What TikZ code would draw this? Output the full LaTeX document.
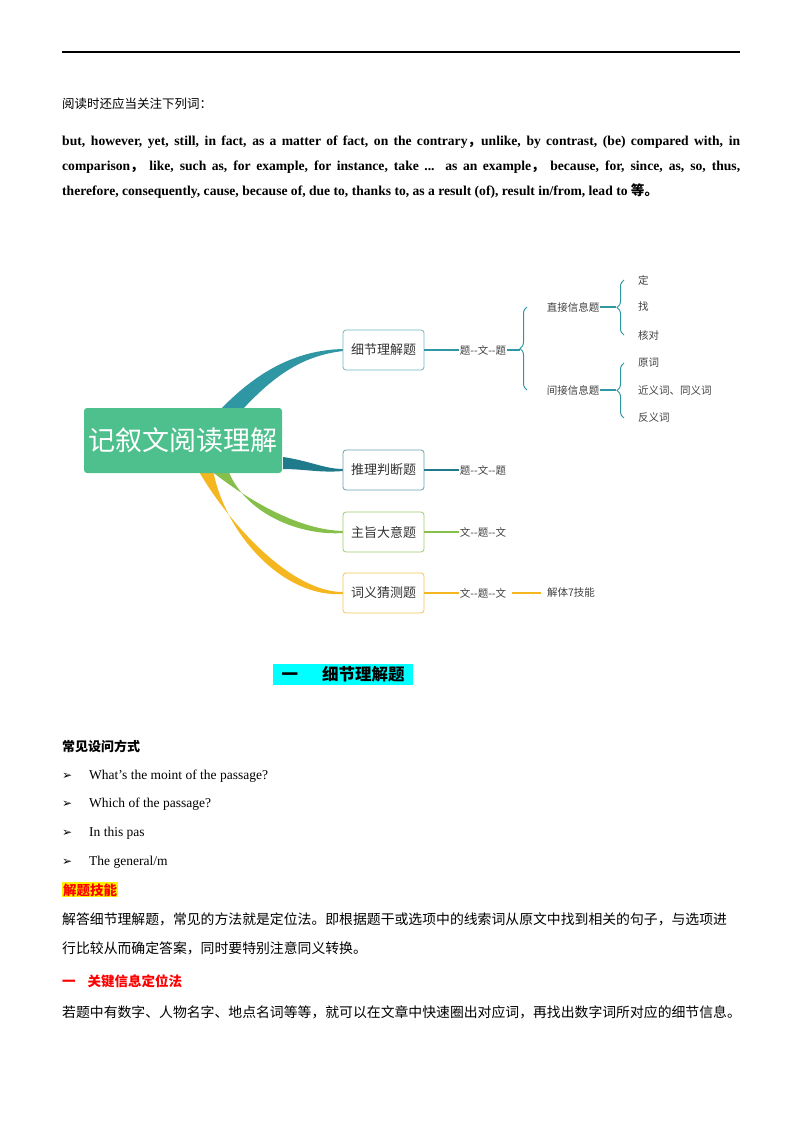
\documentclass[tikz,border=0pt]{standalone}
\usepackage{fontspec}
\setmainfont{Liberation Serif}
\newfontfamily\zh{Noto Sans CJK SC}
\newfontfamily\dv{DejaVu Sans}
\usetikzlibrary{decorations.pathreplacing}
\definecolor{cA}{HTML}{2E97A3}
\definecolor{cB}{HTML}{1F7A8C}
\definecolor{cG}{HTML}{86C04A}
\definecolor{cY}{HTML}{F4B720}
\definecolor{cM}{HTML}{4DC08D}
\definecolor{red1}{HTML}{FF0000}
\definecolor{hcy}{HTML}{00FFFF}
\begin{document}
\begin{tikzpicture}[x=1pt,y=-1pt,
  ln/.style={anchor=base west,inner sep=0pt},
  bx/.style={draw=#1,rounded corners=3pt,line width=0.8pt,minimum width=81pt,minimum height=40pt,font=\zh\fontsize{13}{13}\selectfont,text=black!80,fill=white},
  sm/.style={font=\zh\fontsize{10.5}{10.5}\selectfont,text=black!75,inner sep=1pt},
  br/.style={decorate,decoration={brace,amplitude=7pt,mirror},line width=1pt}]
\useasboundingbox (0,0) rectangle (800,1132);
\draw[line width=1.6pt] (62,52) -- (740,52);
\node[ln] (t0) at (62,108) {\zh\fontsize{12.5}{12.5}\selectfont 阅读时还应当关注下列词：};
\begin{scope}[every node/.style={ln,font=\fontsize{13.6}{13.6}\selectfont\bfseries}]
\node (e1) at (62,145) {\makebox[678pt][s]{but, however, yet, still, in fact, as a matter of fact, on the contrary{\zh ，}unlike, by contrast, (be) compared with, in}};
\node (e2) at (62,170) {\makebox[678pt][s]{comparison{\zh ，} like, such as, for example, for instance, take ... as an example{\zh ，} because, for, since, as, so, thus,}};
\node (e3) at (62,195) {therefore, consequently, cause, because of, due to, thanks to, as a result (of), result in/from, lead to {\zh 等。}};
\end{scope}
% branches
\fill[cA] (220,410) .. controls (260,368) and (300,350) .. (343,349) -- (343,351) .. controls (300,356) and (272,378) .. (242,410) -- cycle;
\fill[cB] (283,457) .. controls (310,461) and (325,469) .. (343,469) -- (343,471) .. controls (320,473) and (305,469) .. (283,469) -- cycle;
\fill[cG] (210,470) .. controls (250,502) and (300,530) .. (343,531) -- (343,533) .. controls (300,536) and (245,514) .. (228,470) -- cycle;
\fill[cY] (198,470) .. controls (228,522) and (290,592) .. (343,592) -- (343,594) .. controls (283,598) and (225,534) .. (213,470) -- cycle;
\node[fill=cM,rounded corners=3pt,minimum width=198pt,minimum height=65pt,text=white,font=\zh\fontsize{27}{27}\selectfont] (c) at (183,440.5) {记叙文阅读理解};
\node[bx=cA!70] (b1) at (383.5,350) {细节理解题};
\node[bx=cB!70] (b2) at (383.5,470) {推理判断题};
\node[bx=cG!80] (b3) at (383.5,532) {主旨大意题};
\node[bx=cY!80] (b4) at (383.5,593) {词义猜测题};
\node[sm] (l1) at (483,350) {题--文--题};
\node[sm] (l2) at (483,470) {题--文--题};
\node[sm] (l3) at (483,532) {文--题--文};
\node[sm] (l4) at (483,593) {文--题--文};
\node[sm] (l5) at (571,593) {解体7技能};
\draw[cA,line width=1.2pt] (b1.east) -- (l1.west);
\draw[cB,line width=1.2pt] (b2.east) -- (l2.west);
\draw[cG,line width=1.2pt] (b3.east) -- (l3.west);
\draw[cY,line width=1.2pt] (b4.east) -- (l4.west);
\draw[cY,line width=1.2pt] ([xshift=5pt]l4.east) -- ([xshift=-5pt]l5.west);
\node[sm] (d1) at (573,307) {直接信息题};
\node[sm] (d2) at (573,390) {间接信息题};
\draw[cA,line width=1.2pt] (l1.east) -- (520,350);
\draw[cA,br] (527,307) -- (527,390);
\draw[cA,line width=1.2pt] (d1.east) -- (616,307);
\draw[cA,line width=1.2pt] (d2.east) -- (616,390);
\draw[cA,br] (624,280) -- (624,335);
\draw[cA,br] (624,363) -- (624,418);
\node[sm,anchor=west] (f1) at (637,280) {定};
\node[sm,anchor=west] (f2) at (637,307) {找};
\node[sm,anchor=west] (f3) at (637,335) {核对};
\node[sm,anchor=west] (f4) at (637,363) {原词};
\node[sm,anchor=west] (f5) at (637,390) {近义词、同义词};
\node[sm,anchor=west] (f6) at (637,418) {反义词};
% section heading
\node[fill=hcy,inner sep=0pt,minimum width=140pt,minimum height=21pt,anchor=west,font=\zh\fontsize{16.5}{16.5}\selectfont\bfseries] (h) at (273,674) {一\hspace{24pt}细节理解题};
\node[ln,font=\zh\fontsize{13}{13}\selectfont\bfseries] (q0) at (62,751) {常见设问方式};
\foreach \yy/\tt [count=\i] in {779/{What{\char"27}s the moint of the passage?},807/{Which of the passage?},836/{In this pas},865/{The general{\char"2F}m}}{
  \node[ln,font=\dv\fontsize{12}{12}\selectfont] (bu\i) at (62,\yy) {➢};
  \node[ln,font=\fontsize{13.5}{13.5}\selectfont] (q\i) at (89,\yy) {\tt};
}
\node[ln,fill=yellow,inner sep=1pt,text=red1,font=\zh\fontsize{13.5}{13.5}\selectfont\bfseries] (s1) at (62,895) {解题技能};
\begin{scope}[every node/.style={ln,font=\zh\fontsize{13.85}{13.85}\selectfont}]
\node (p1) at (62,924) {解答细节理解题，常见的方法就是定位法。即根据题干或选项中的线索词从原文中找到相关的句子，与选项进};
\node (p2) at (62,953) {行比较从而确定答案，同时要特别注意同义转换。};
\node (p3) at (62,1017) {若题中有数字、人物名字、地点名词等等，就可以在文章中快速圈出对应词，再找出数字词所对应的细节信息。};
\end{scope}
\node[ln,text=red1,font=\zh\fontsize{13.5}{13.5}\selectfont\bfseries] (s2) at (62,986) {一\hspace{12pt}关键信息定位法};
\end{tikzpicture}
\end{document}
